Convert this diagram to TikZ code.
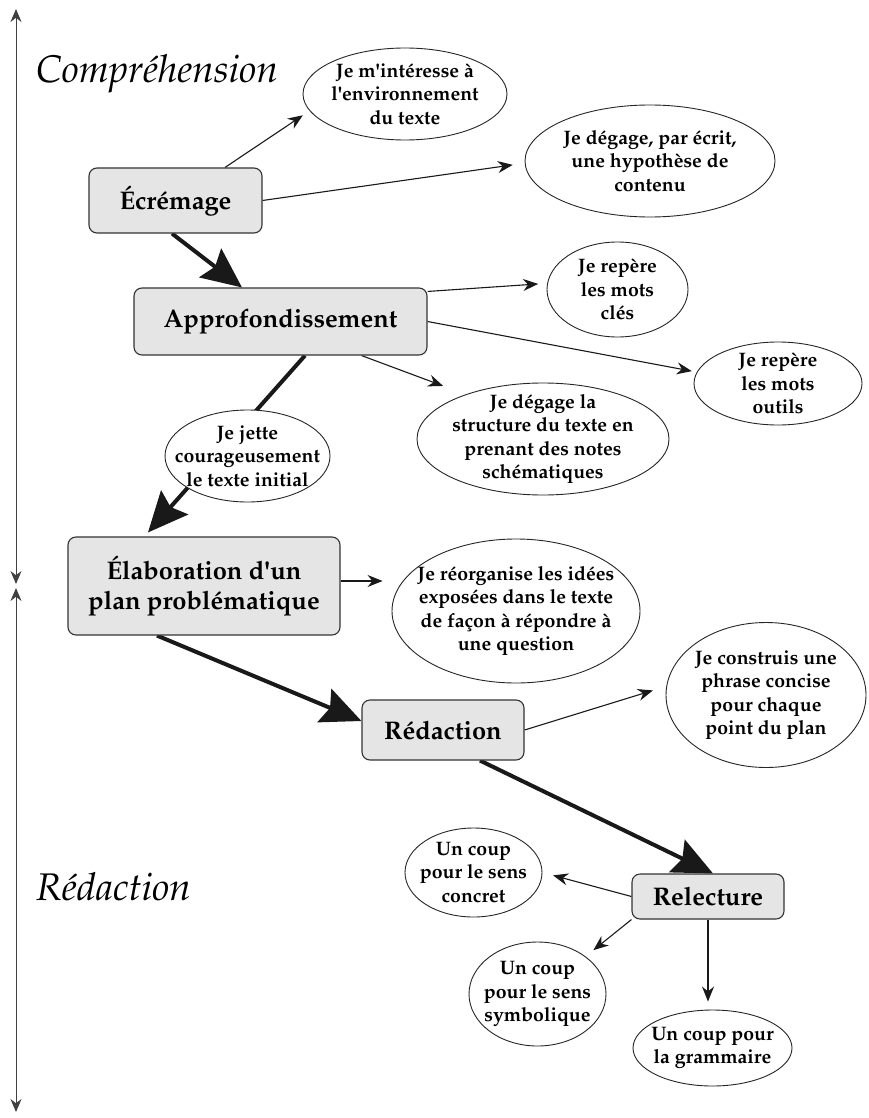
\documentclass[tikz,border=0pt]{standalone}
\usepackage[T1]{fontenc}
\usepackage{mathpazo}
\usetikzlibrary{arrows.meta,shapes.geometric,calc}
\pgfdeclarelayer{bg}
\pgfsetlayers{bg,main}
\newcommand{\ap}{\textquotesingle}
\begin{document}
\begin{tikzpicture}[x=1pt,y=-1pt,
  box/.style={draw=black!80, line width=1.1pt, rounded corners=8pt, fill=black!10, inner sep=0pt, align=center, font=\fontsize{25.5}{30}\selectfont\bfseries, text=black},
  bub/.style={draw=black!85, line width=0.9pt, ellipse, fill=white, inner sep=0pt},
  bubtext/.style={inner sep=0pt, align=center, font=\fontsize{19.5}{23.5}\selectfont\bfseries, text=black},
  sarrow/.style={draw=black!90, line width=1.1pt, -{Stealth[length=15pt,width=12pt]}},
  barrow/.style={draw=black!90, line width=4pt, -{Stealth[length=40pt,width=36pt,inset=6pt]}},
  axisline/.style={draw=black!75, line width=1pt, {Stealth[length=13pt,width=11pt]}-{Stealth[length=13pt,width=11pt]}},
  phase/.style={anchor=base west, inner sep=0pt, font=\fontsize{38.5}{42}\selectfont\itshape, text=black}]
\useasboundingbox (0,0) rectangle (869,1118);

% phase labels
\node[phase] (pc) at (36,83) {Compr\'ehension};
\node[phase] (pr) at (36,900) {R\'edaction};

% boxes
\node[box, minimum width=173pt, minimum height=65pt] (ecr) at (175.5,200.5) {\'Ecr\'emage};
\node[box, minimum width=293pt, minimum height=67pt] (app) at (280.5,321.5) {Approfondissement};
\node[box, minimum width=272pt, minimum height=98pt] (ela) at (204,586) {\'Elaboration d\ap un\\plan probl\'ematique};
\node[box, minimum width=162pt, minimum height=60pt] (red) at (443,730) {R\'edaction};
\node[box, minimum width=152pt, minimum height=45pt] (rel) at (708,896.5) {Relecture};

% bubbles
\node[bub, minimum width=204pt, minimum height=92pt, label={[bubtext]center:{Je m\ap int\'eresse \`a\\l\ap environnement\\du texte}}] (e1) at (405,94) {};
\node[bub, minimum width=250pt, minimum height=112pt, label={[bubtext]center:{Je d\'egage, par \'ecrit,\\une hypoth\`ese de\\contenu}}] (e2) at (650,161) {};
\node[bub, minimum width=141pt, minimum height=95pt, label={[bubtext]center:{Je rep\`ere\\les mots\\cl\'es}}] (e3) at (617.5,289.5) {};
\node[bub, minimum width=168pt, minimum height=83pt, label={[bubtext]center:{Je rep\`ere\\les mots\\outils}}] (e4) at (778,383.5) {};
\node[bub, minimum width=252pt, minimum height=112pt, label={[bubtext]center:{Je d\'egage la\\structure du texte en\\prenant des notes\\sch\'ematiques}}] (e5) at (543,439) {};
\node[bub, minimum width=165pt, minimum height=92pt, label={[bubtext]center:{Je jette\\courageusement\\le texte initial}}] (ej) at (247.5,456) {};
\node[bub, minimum width=248pt, minimum height=144pt, label={[bubtext]center:{Je r\'eorganise les id\'ees\\expos\'ees dans le texte\\de fa\c{c}on \`a r\'epondre \`a\\une question}}] (e6) at (516,611) {};
\node[bub, minimum width=200pt, minimum height=145pt, label={[bubtext]center:{Je construis une\\phrase concise\\pour chaque\\point du plan}}] (e7) at (766,695) {};
\node[bub, minimum width=137pt, minimum height=89pt, label={[bubtext]center:{Un coup\\pour le sens\\concret}}] (e8) at (473.5,872.5) {};
\node[bub, minimum width=137pt, minimum height=104pt, label={[bubtext]center:{Un coup\\pour le sens\\symbolique}}] (e9) at (537.5,994) {};
\node[bub, minimum width=159pt, minimum height=76pt, label={[bubtext]center:{Un coup pour\\la grammaire}}] (e10) at (712.5,1048) {};

% axis
\coordinate (a1) at (16,9);
\coordinate (a2) at (16,584);
\coordinate (a3) at (16,588);
\coordinate (a4) at (16,1112);

\begin{pgfonlayer}{bg}
\draw[axisline] (a1) -- (a2);
\draw[axisline] (a3) -- (a4);
% thin connectors
\draw[sarrow, shorten >=8pt] ([xshift=49.5pt]ecr.north) -- (e1.190);
\draw[sarrow, shorten >=12pt] (ecr.east) -- (e2.181);
\draw[sarrow, shorten >=9pt] ([yshift=-4pt]app.north east) -- (e3.175);
\draw[sarrow, shorten >=5pt] (app.east) -- (e4.172);
\draw[sarrow, shorten >=24pt] ([xshift=81pt]app.south) -- (e5.150);
\draw[sarrow, shorten >=9pt] ([yshift=5pt]ela.east) coordinate (s6) -- (s6 -| e6.west);
\draw[sarrow, shorten >=14pt] (red.east) -- (e7.175);
\draw[sarrow, shorten >=11pt] (rel.west) -- (e8.east);
\draw[sarrow, shorten >=10pt] (rel.south west) -- (e9.38);
\draw[sarrow, shorten >=8pt] (rel.south) -- (rel.south |- e10.north);
% thick connectors
\draw[barrow] ([xshift=-3.5pt]ecr.south) -- ([xshift=-38.5pt]app.north);
\draw[barrow] ([xshift=24.5pt]app.south) -- ([xshift=-56pt,yshift=4pt]ela.north);
\draw[barrow] ([xshift=-47pt]ela.south) -- ([yshift=9pt]red.west);
\draw[barrow] ([xshift=37pt]red.south) -- ([xshift=5pt]rel.north);
\end{pgfonlayer}
\end{tikzpicture}
\end{document}
